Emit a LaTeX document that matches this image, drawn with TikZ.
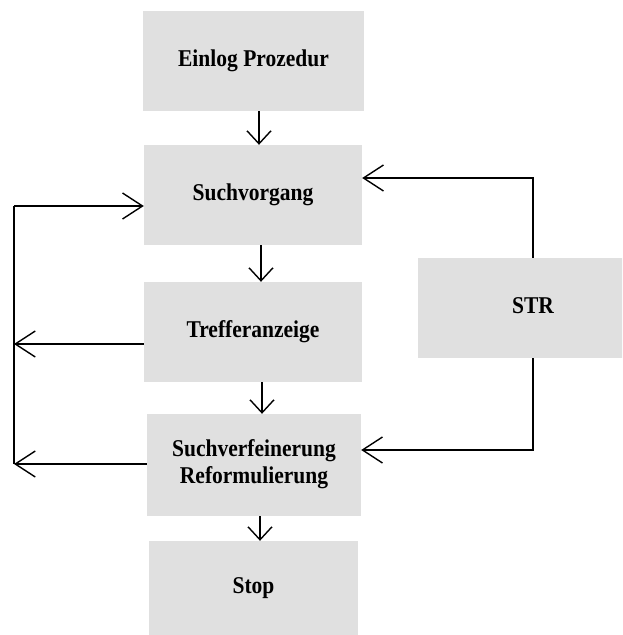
\documentclass[tikz,border=0pt]{standalone}
\usepackage{fontspec}
\setmainfont{Liberation Serif}
\usetikzlibrary{arrows.meta}
\definecolor{boxgray}{HTML}{E0E0E0}
% tall bold lettering used in every box
\newcommand{\boxtext}[1]{\scalebox{1}[1.12]{\begin{tabular}{@{}c@{}}#1\end{tabular}}}
\tikzset{
  stepbox/.style={fill=boxgray, draw=none, inner sep=0pt, align=center,
    font=\fontsize{21.5}{24}\selectfont\bfseries},
  flow/.style={line width=1.4pt, -{Straight Barb[length=13pt, width=24pt, line width=1.4pt]}},
  loop/.style={line width=1.4pt, -{Straight Barb[length=20pt, width=26pt, line width=1.4pt]}},
  plain/.style={line width=1.4pt}
}
\begin{document}
\begin{tikzpicture}[x=1pt, y=-1pt]
  \clip (0,0) rectangle (622,635);
  \fill[white] (0,0) rectangle (622,635);

  % process boxes
  \node[stepbox, minimum width=221pt, minimum height=100pt] (login) at (253.5,61) {\raisebox{2pt}{\boxtext{Einlog Prozedur}}};
  \node[stepbox, minimum width=218pt, minimum height=100pt] (search) at (253,195) {\boxtext{Suchvorgang}};
  \node[stepbox, minimum width=218pt, minimum height=100pt] (hits) at (253,332) {\raisebox{3pt}{\boxtext{Trefferanzeige}}};
  \node[stepbox, minimum width=214pt, minimum height=102pt] (refine) at (254,465) {\boxtext{Suchverfeinerung\\Reformulierung}};
  \node[stepbox, minimum width=209pt, minimum height=94pt] (stop) at (253.5,588) {\boxtext{Stop}};
  \node[stepbox, minimum width=230pt, minimum height=100pt] (str) at (533,308) {\boxtext{STR}};

  % main sequence
  \draw[flow] (login.south -| 259,0) -- (search.north -| 259,0);
  \draw[flow] (search.south -| 261,0) -- (hits.north -| 261,0);
  \draw[flow] (hits.south -| 262,0) -- (refine.north -| 262,0);
  \draw[flow] (refine.south -| 260,0) -- (stop.north -| 260,0);

  % feedback loop on the left
  \coordinate (ltop) at (14,206);
  \coordinate (lhits) at (14,344);
  \coordinate (lrefine) at (14,464);
  \draw[plain] (lrefine) -- (ltop);
  \draw[loop] (ltop) -- (search.west |- ltop);
  \draw[loop] (hits.west |- lhits) -- (lhits);
  \draw[loop] (refine.west |- lrefine) -- (lrefine);

  % STR connections on the right
  \draw[loop] (str.north) -- (str.north |- 0,178) -- (search.east |- 0,178);
  \draw[loop] (str.south) -- (str.south |- 0,450) -- (refine.east |- 0,450);
\end{tikzpicture}
\end{document}
